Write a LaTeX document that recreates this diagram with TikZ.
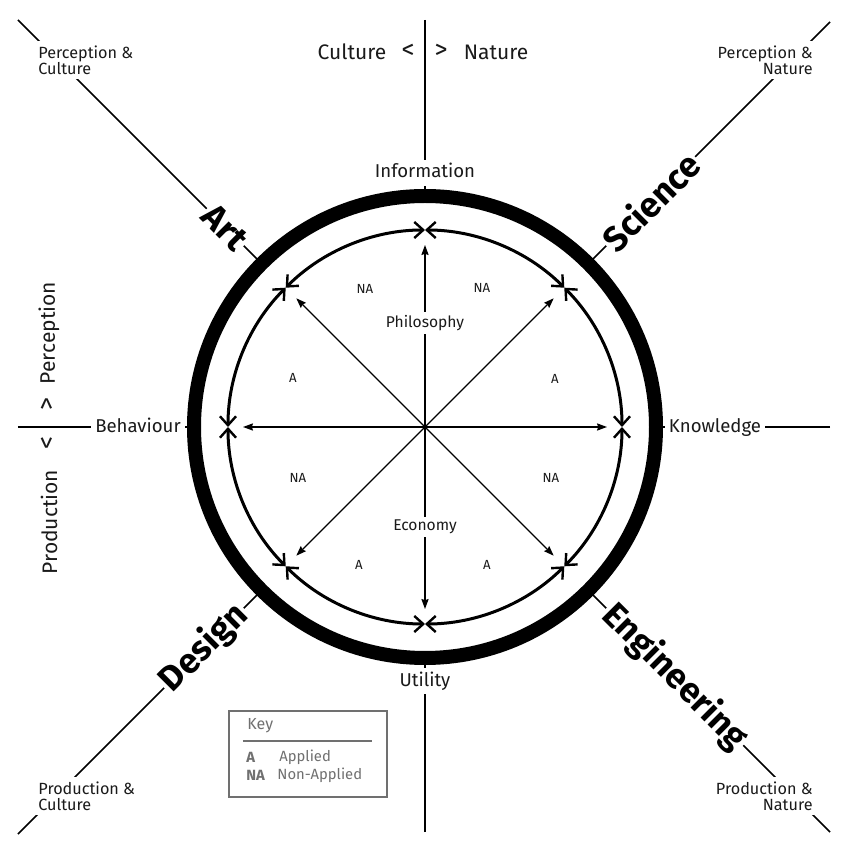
\documentclass[tikz,border=0pt]{standalone}
\usepackage{fontspec}
\setmainfont{Fira Sans}
\usetikzlibrary{arrows.meta}
\definecolor{keygray}{HTML}{707070}
\definecolor{ink}{HTML}{1A1A1A}
\tikzset{
  xbarb/.tip={Straight Barb[angle=84:6pt, line width=1.2pt]},
  ctip/.tip={Stealth[length=5pt, width=3.6pt, inset=0.6pt]},
  axis/.style={line width=0.8pt},
  ring/.style={line width=7pt},
  inner/.style={line width=1.5pt, xbarb-xbarb},
  spoke/.style={line width=0.6pt, -ctip},
  lab/.style={fill=white, inner sep=2pt, text=ink, text height=0.72em, text depth=0.22em, font=\fontsize{9.3}{11}\selectfont},
  big/.style={inner sep=1pt, text=ink, font=\fontsize{10.5}{12}\selectfont},
  brk/.style={inner sep=1pt, text=ink, font=\fontsize{13}{13}\selectfont},
  corner/.style={fill=white, inner sep=2pt, text=ink, font=\fontsize{8.1}{8.2}\selectfont},
  bold/.style={fill=white, inner sep=1pt, font=\fontsize{17.5}{20}\selectfont\bfseries},
  mid/.style={fill=white, inner sep=1.5pt, text=ink, font=\fontsize{7.8}{9}\selectfont},
  small/.style={inner sep=1pt, text=ink, font=\fontsize{6.6}{8}\selectfont},
  keytxt/.style={inner sep=0pt, text=keygray, font=\fontsize{7.4}{9}\selectfont},
}
\begin{document}
\begin{tikzpicture}[x=0.5pt,y=0.5pt]
\useasboundingbox (-425,427) rectangle (425,-423);
\fill[white] (-425,427) rectangle (425,-423);
\coordinate (c) at (0,0);
% axis end points
\coordinate (T) at (0,407);
\coordinate (B) at (0,-405);
\coordinate (L) at (-407,0);
\coordinate (R) at (405,0);
\coordinate (TL) at (-407,407);
\coordinate (TR) at (405,405);
\coordinate (BL) at (-407,-407);
\coordinate (BR) at (405,-405);
\foreach \p/\a in {T/90,B/270,L/180,R/0,TL/135,TR/45,BL/225,BR/315}{
  \coordinate (ring\p) at (\a:236);
  \draw[axis] (\p) -- (ring\p);
}
% rings
\draw[ring] (c) circle[radius=231];
\foreach \a in {0,45,...,315}{
  \draw[inner] (\a:197) arc[start angle=\a, end angle=\a+45, radius=197];
}
% spokes
\foreach \a in {0,45,...,315}{
  \coordinate (tip\a) at (\a:182);
  \draw[spoke] (c) -- (tip\a);
}
% axis labels
\node[lab] (info) at (0,254) {Information};
\node[lab] (util) at (0,-254) {Utility};
\node[lab] (beh) at (-287,-1) {Behaviour};
\node[lab] (know) at (290,-1) {Knowledge};
\node[mid] (phil) at (0,104) {Philosophy};
\node[mid] (econ) at (0,-100) {Economy};
% top and side
\node[big] (cul) at (-73,375) {Culture};
\node[brk] (clt) at (-17,376) {<};
\node[brk] (cgt) at (16,376) {>};
\node[big] (nat) at (71,375) {Nature};
\node[big, rotate=90] (perc) at (-376,94) {Perception};
\node[brk, rotate=90] (pgt) at (-377,23) {>};
\node[brk, rotate=90] (plt) at (-377,-16) {<};
\node[big, rotate=90] (prod) at (-376,-95) {Production};
% corners
\node[corner, anchor=west, align=left] (pc) at (-391,367) {Perception \&\\Culture};
\node[corner, anchor=east, align=right] (pn) at (392,367) {Perception \&\\Nature};
\node[corner, anchor=west, align=left] (pdc) at (-391,-369) {Production \&\\Culture};
\node[corner, anchor=east, align=right] (pdn) at (392,-369) {Production \&\\Nature};
% bold labels
\node[bold, rotate=-45, anchor=east] (art) at (135:256) {Art};
\node[bold, rotate=45, anchor=west] (sci) at (45:256) {Science};
\node[bold, rotate=45, anchor=east] (des) at (225:256) {Design};
\node[bold, rotate=-45, anchor=west] (eng) at (-45:256) {Engineering};
% A / NA
\node[small] (s1) at (-60,138) {NA};
\node[small] (s2) at (57,139) {NA};
\node[small] (s3) at (-132,49) {A};
\node[small] (s4) at (130,48) {A};
\node[small] (s5) at (-127,-51) {NA};
\node[small] (s6) at (126,-51) {NA};
\node[small] (s7) at (-66,-138) {A};
\node[small] (s8) at (62,-138) {A};
% key
\node[draw=keygray, line width=0.8pt, minimum width=79pt, minimum height=43pt, anchor=north west, inner sep=0pt] (key) at (-197,-283) {};
\node[keytxt, anchor=west, font=\fontsize{8}{9}\selectfont] (keyt) at (-178,-299) {Key};
\coordinate (kr1) at (-182,-314);
\coordinate (kr2) at (-53,-314);
\draw[keygray, line width=0.6pt] (kr1) -- (kr2);
\node[keytxt, anchor=west, font=\fontsize{7.4}{9}\selectfont\bfseries] (ka) at (-179,-330) {A};
\node[keytxt, anchor=west] (kat) at (-146,-330) {Applied};
\node[keytxt, anchor=west, font=\fontsize{7.4}{9}\selectfont\bfseries] (kna) at (-179,-348) {NA};
\node[keytxt, anchor=west] (knat) at (-148,-348) {Non-Applied};
\end{tikzpicture}
\end{document}
